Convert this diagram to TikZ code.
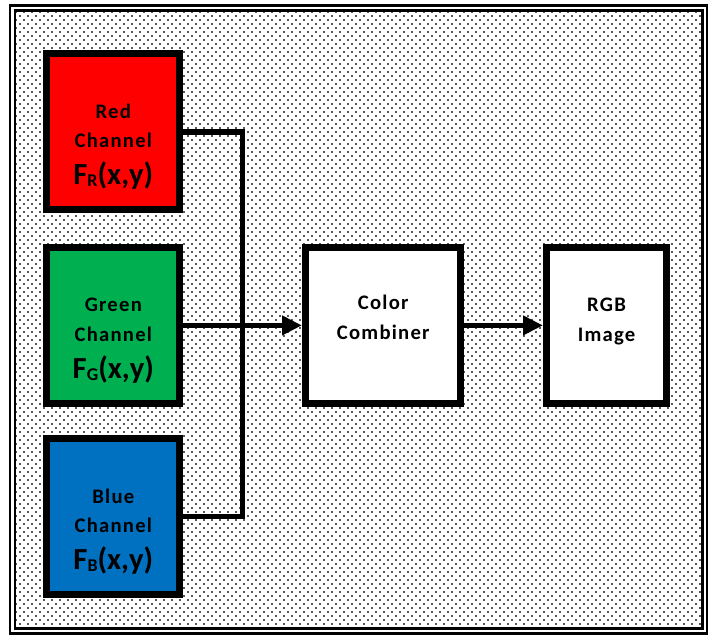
\documentclass[tikz,border=0pt]{standalone}
\usepackage{fontspec}
\setmainfont{Carlito}
\newfontfamily\boxfont{Carlito}[LetterSpace=6]
\definecolor{chanred}{RGB}{255, 0, 0}
\definecolor{changreen}{RGB}{0, 176, 80}
\definecolor{chanblue}{RGB}{0, 112, 192}
\usetikzlibrary{arrows.meta, positioning, patterns, calc}
\pgfdeclarepatternformonly{bgdots}{\pgfqpoint{-1pt}{-1pt}}{\pgfqpoint{5pt}{5pt}}{\pgfqpoint{6pt}{6pt}}{%
  \pgfpathrectangle{\pgfqpoint{-.7pt}{-.7pt}}{\pgfqpoint{1.4pt}{1.4pt}}%
  \pgfpathrectangle{\pgfqpoint{2.3pt}{2.3pt}}{\pgfqpoint{1.4pt}{1.4pt}}%
  \pgfusepath{fill}}
\newcommand{\chanfn}[1]{{\normalfont\bfseries\fontsize{23}{23}\selectfont F\raisebox{-1.5pt}{\fontsize{13.5}{13.5}\selectfont #1}(x,y)}}

\begin{document}
\begin{tikzpicture}[
      node distance=22pt,
      blk/.style={draw, line width=5.25pt, minimum height=117pt, inner sep=0pt},
      chan/.style={blk, minimum width=99.75pt},
      txt/.style={align=center, inner sep=0pt, font=\boxfont\bfseries\fontsize{15.5}{22}\selectfont},
      conn/.style={line width=4.2pt},
      arr/.style={conn, -{Triangle[length=15pt, width=14pt]}},
    ]
      \useasboundingbox (0,0) rectangle (531pt,-477pt);
      \draw[pattern=bgdots, pattern color=black!65, line width=1.9pt, double, double distance=1.7pt]
        (9.4pt,-6pt) rectangle (528.5pt,-473.3pt);

      \node[chan, fill=chanred] (red) at (85pt,-98.8pt) {};
      \node[chan, fill=changreen, below=23pt of red] (green) {};
      \node[chan, fill=chanblue, below=21pt of green] (blue) {};

      \node[blk, fill=white, minimum width=116.6pt, right=89pt of green] (comb) {};
      \node[blk, fill=white, minimum width=90pt, right=58.9pt of comb] (rgb) {};

      \node[txt] (redtxt) at ([yshift=-11.4pt]red.center) {Red\\Channel\\[5.75pt]\chanfn{R}};
      \node[txt] (greentxt) at ([yshift=-11.4pt]green.center) {Green\\Channel\\[5.75pt]\chanfn{G}};
      \node[txt] (bluetxt) at ([yshift=-11.4pt]blue.center) {Blue\\Channel\\[5.75pt]\chanfn{B}};
      \node[txt] (combtxt) at ([yshift=6pt]comb.center) {Color\\Combiner};
      \node[txt] (rgbtxt) at ([yshift=3pt]rgb.center) {RGB\\Image};

      \coordinate (jn) at ($(green.east)!.5!(comb.west)$);
      \draw[conn] (red.east) -| (jn) |- (blue.east);
      \draw[arr] (green.east) -- (comb.west);
      \draw[arr] (comb.east) -- (rgb.west);
    \end{tikzpicture}
\end{document}
